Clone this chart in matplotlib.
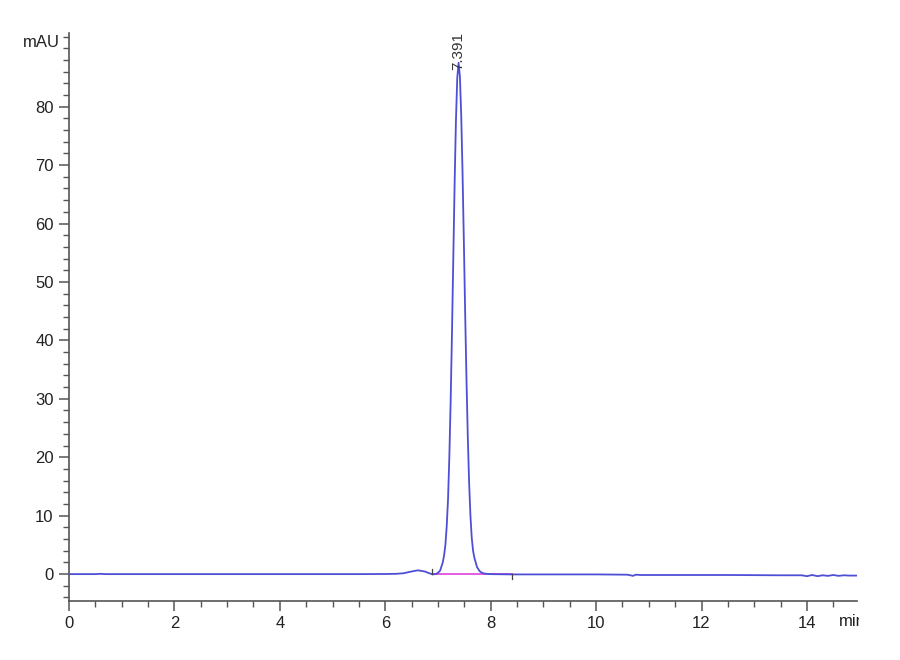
import matplotlib
matplotlib.use("Agg")
import matplotlib.pyplot as plt
from matplotlib.patches import Rectangle
from matplotlib.ticker import MultipleLocator

# ---- data ----
time_min = [0.0, 0.5, 0.6, 0.7, 1.5, 2.5, 3.5, 4.5, 5.5, 6.0, 6.2, 6.35, 6.5, 6.62,
            6.75, 6.85, 6.9, 6.95, 6.991, 7.041, 7.091, 7.116, 7.141, 7.166, 7.191,
            7.216, 7.241, 7.266, 7.291, 7.316, 7.341, 7.366, 7.391, 7.416, 7.441,
            7.466, 7.491, 7.516, 7.541, 7.566, 7.591, 7.616, 7.641, 7.666, 7.691,
            7.741, 7.791, 7.841, 7.891, 7.991, 8.4, 9.0, 9.5, 10.0, 10.6, 10.7,
            10.75, 10.85, 11.5, 12.5, 13.5, 13.9, 14.0, 14.1, 14.2, 14.3, 14.4,
            14.5, 14.6, 14.7, 14.8, 14.95]
mau = [0.0, 0.0, 0.05, 0.0, 0.0, 0.0, 0.0, 0.0, 0.0, 0.02, 0.05, 0.15, 0.45, 0.65,
       0.45, 0.1, -0.05, 0.0, 0.15, 0.6, 2.0, 3.2, 5.0, 8.2, 12.8, 20.1, 29.7,
       41.3, 54.1, 66.8, 77.6, 84.9, 87.5, 85.2, 78.6, 68.8, 57.0, 44.7, 33.3,
       23.5, 15.7, 10.0, 6.2, 4.0, 2.8, 1.2, 0.5, 0.2, 0.08, 0.0, -0.05, -0.05,
       -0.05, -0.05, -0.1, -0.3, -0.1, -0.15, -0.15, -0.15, -0.2, -0.2, -0.35,
       -0.15, -0.35, -0.2, -0.3, -0.15, -0.3, -0.2, -0.25, -0.25]
peak_rt = 7.391
peak_height = 87.5
peak_label = "7.391"
base_start, base_end = 6.88, 8.40
x_ticks = [0, 2, 4, 6, 8, 10, 12, 14]
y_ticks = [0, 10, 20, 30, 40, 50, 60, 70, 80]

fam = ["Liberation Sans Narrow", "Liberation Sans", "DejaVu Sans"]

fig = plt.figure(figsize=(9, 6.6), dpi=100)
ax = fig.add_axes([69 / 900, 59 / 660, (857 - 69) / 900, (601 - 33) / 660])

ax.plot(time_min, mau, color="#4f4fd6", lw=1.3, zorder=3)
ax.plot([base_start, base_end], [0, 0], color="#e040e0", lw=1.2, zorder=2)
ax.plot([base_start, base_start], [0, 0.8], color="#444444", lw=0.9, zorder=4)
ax.plot([base_end, base_end], [0, -0.8], color="#444444", lw=0.9, zorder=4)

ax.text(peak_rt, peak_height - 1.3, peak_label, rotation=90, ha="center", va="bottom",
        fontsize=11, color="#333333", family=fam)

ax.set_xlim(0, 14.95)
ax.set_ylim(-4.6, 92.6)
for s in ["top", "right"]:
    ax.spines[s].set_visible(False)
for s in ["left", "bottom"]:
    ax.spines[s].set_color("#555555")
    ax.spines[s].set_linewidth(1.2)

ax.set_xticks(x_ticks)
ax.set_yticks(y_ticks)
ax.xaxis.set_minor_locator(MultipleLocator(0.5))
ax.yaxis.set_minor_locator(MultipleLocator(2))
ax.tick_params(which="major", length=7, width=1.1, color="#555555", labelsize=12,
               labelcolor="#222222", pad=4)
ax.tick_params(which="minor", length=4, width=1.0, color="#555555")
for lab in ax.get_xticklabels() + ax.get_yticklabels():
    lab.set_family(fam)

ax.text(-0.012, 91.0, "mAU", transform=ax.get_yaxis_transform(), ha="right",
        va="center", fontsize=12, color="#222222", family=fam)

t = fig.text(839 / 900, 1 - 622 / 660, "min", ha="left", va="center", fontsize=12,
             color="#222222", family=fam)
clip = Rectangle((0, 0), 859 / 900, 1, transform=fig.transFigure, visible=False)
fig.add_artist(clip)
t.set_clip_path(clip)

fig.savefig("out.png", dpi=100, facecolor="white")
